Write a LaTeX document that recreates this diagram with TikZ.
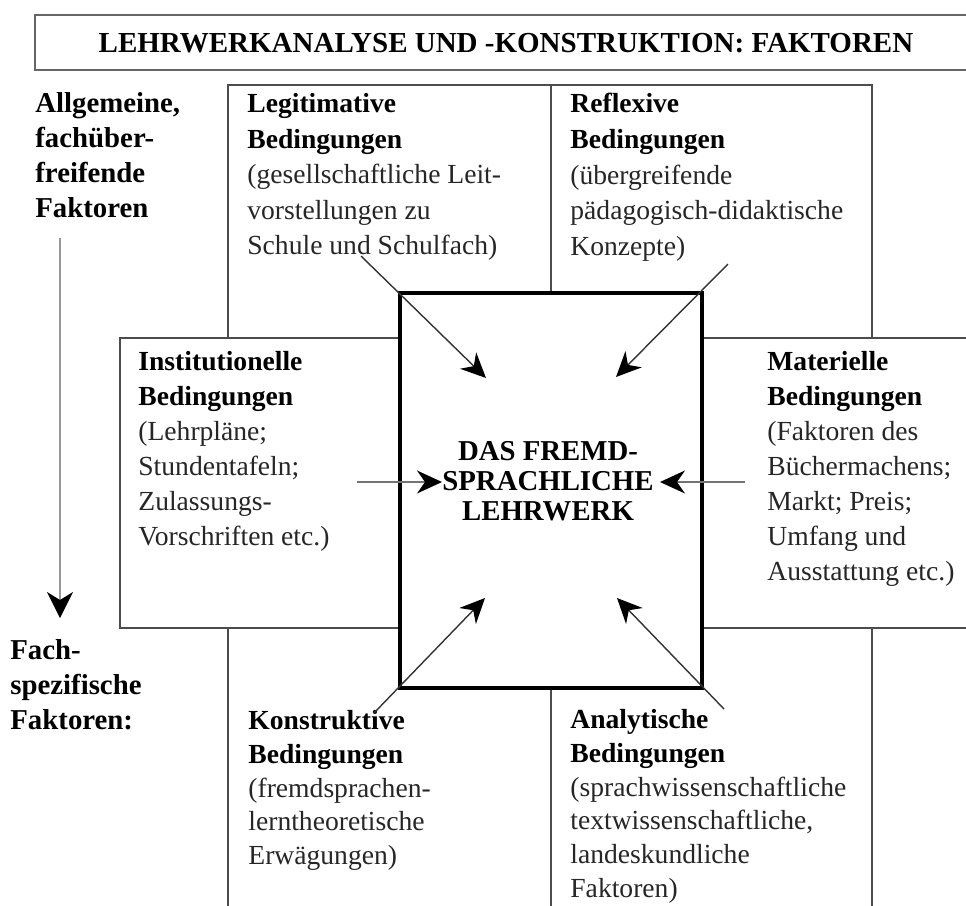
\documentclass[tikz,border=0pt]{standalone}
\usepackage{fontspec}
\setmainfont{Liberation Serif}
\usetikzlibrary{arrows.meta}
\begin{document}
\begin{tikzpicture}[x=0.5pt,y=-0.5pt,
  frame/.style={draw=black!70,line width=0.75pt},
  txt/.style={anchor=north west,inner sep=0pt,align=left,text=black!85,font=\fontsize{13.8}{17.5}\selectfont},
  txttop/.style={txt,font=\fontsize{13.8}{17.8}\selectfont},
  txtbot/.style={txt,font=\fontsize{13.8}{16.9}\selectfont},
  hd/.style={text=black,font=\bfseries},
  arr/.style={draw=black!80,line width=0.7pt,-{Stealth[length=12.5pt,width=11.5pt,inset=4pt,color=black]}},
]
\useasboundingbox (0,0) rectangle (966,906);
% title
\draw[frame,draw=black!60] (35,15) rectangle (990,70);
\node[inner sep=0pt,font=\fontsize{14.5}{17}\selectfont\bfseries] (title) at (506,43) {LEHRWERKANALYSE UND -KONSTRUKTION: FAKTOREN};
% outer vertical box
\draw[frame] (228,85) rectangle (872,940);
\draw[frame] (551,85) -- (551,940);
% horizontal box
\draw[frame,fill=white] (120,338) rectangle (990,628);
% central box
\node[draw=black,line width=2pt,fill=white,minimum width=151pt,minimum height=197.5pt,inner sep=0pt] (center) at (551,490.5) {};
\node[inner sep=0pt,align=center,font=\fontsize{14.4}{15}\selectfont\bfseries] (ctext) at (548,481) {DAS FREMD-\\SPRACHLICHE\\LEHRWERK};
% side labels
\node[txt,text=black,font=\fontsize{14.4}{17.5}\selectfont\bfseries] (allg) at (35,92) {Allgemeine,\\fachüber-\\freifende\\Faktoren};
\node[txt,text=black,font=\fontsize{14.4}{17.5}\selectfont\bfseries] (fach) at (10,639) {Fach-\\spezifische\\Faktoren:};
% blocks
\node[txttop] (legit) at (247,93) {\textcolor{black}{\bfseries Legitimative}\\\textcolor{black}{\bfseries Bedingungen}\\(gesellschaftliche Leit-\\vorstellungen zu\\Schule und Schulfach)};
\node[txttop] (refl) at (570,93) {\textcolor{black}{\bfseries Reflexive}\\\textcolor{black}{\bfseries Bedingungen}\\(übergreifende\\pädagogisch-didaktische\\Konzepte)};
\node[txt] (inst) at (138,351) {\textcolor{black}{\bfseries Institutionelle}\\\textcolor{black}{\bfseries Bedingungen}\\(Lehrpläne;\\Stundentafeln;\\Zulassungs-\\Vorschriften etc.)};
\node[txt] (mat) at (767,351) {\textcolor{black}{\bfseries Materielle}\\\textcolor{black}{\bfseries Bedingungen}\\(Faktoren des\\Büchermachens;\\Markt; Preis;\\Umfang und\\Ausstattung etc.)};
\node[txtbot] (konst) at (248,710) {\textcolor{black}{\bfseries Konstruktive}\\\textcolor{black}{\bfseries Bedingungen}\\(fremdsprachen-\\lerntheoretische\\Erwägungen)};
\node[txtbot] (anal) at (570,709) {\textcolor{black}{\bfseries Analytische}\\\textcolor{black}{\bfseries Bedingungen}\\(sprachwissenschaftliche\\textwissenschaftliche,\\landeskundliche\\Faktoren)};
% arrow coordinates
\coordinate (s1) at (361,256); \coordinate (t1) at (486,378);
\coordinate (s2) at (728,264); \coordinate (t2) at (616,377);
\coordinate (s3) at (357,482); \coordinate (t3) at (442,482);
\coordinate (s4) at (745,482); \coordinate (t4) at (660,482);
\coordinate (s5) at (374,713); \coordinate (t5) at (485,598);
\coordinate (s6) at (724,709); \coordinate (t6) at (617,598);
\draw[arr] (s1) -- (t1);
\draw[arr] (s2) -- (t2);
\draw[arr,draw=black!55] (s3) -- (t3);
\draw[arr,draw=black!55] (s4) -- (t4);
\draw[arr] (s5) -- (t5);
\draw[arr] (s6) -- (t6);
% left vertical arrow
\coordinate (v1) at (60,238); \coordinate (v2) at (60,618);
\draw[line width=0.9pt,draw=black!40,-{Stealth[length=13pt,width=13pt,inset=4pt,color=black]}] (v1) -- (v2);
\end{tikzpicture}
\end{document}
